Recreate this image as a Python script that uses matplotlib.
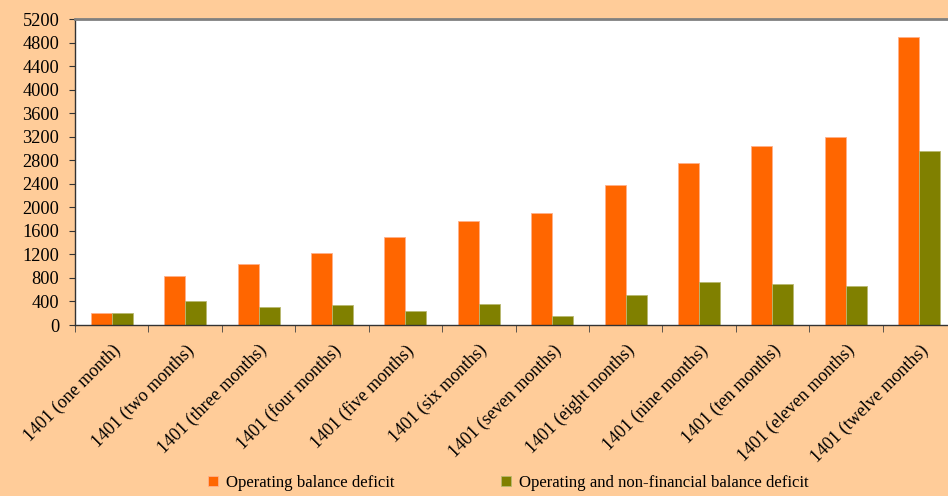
import matplotlib.pyplot as plt
import numpy as np

# Data
periods = ["1401 (one month)", "1401 (two months)", "1401 (three months)",
           "1401 (four months)", "1401 (five months)", "1401 (six months)",
           "1401 (seven months)", "1401 (eight months)", "1401 (nine months)",
           "1401 (ten months)", "1401 (eleven months)", "1401 (twelve months)"]
operating_deficit = [210, 830, 1030, 1220, 1500, 1760, 1900, 2380, 2760, 3040, 3200, 4900]
nonfinancial_deficit = [200, 400, 300, 340, 240, 360, 160, 505, 725, 700, 665, 2950]

bg = "#FFCC99"
orange = "#FF6600"
olive = "#808000"

plt.rcParams['font.family'] = ['Liberation Serif', 'DejaVu Serif']

fig = plt.figure(figsize=(9.48, 4.96), dpi=100, facecolor=bg)
ax = fig.add_axes([75 / 948, 1 - 325 / 496, 881 / 948, 306 / 496])
ax.set_facecolor("white")

x = np.arange(len(periods))
w = 0.286
ax.bar(x - w / 2, operating_deficit, w, color=orange, edgecolor="#FFB08A",
       linewidth=0.6, label="Operating balance deficit")
ax.bar(x + w / 2, nonfinancial_deficit, w, color=olive, edgecolor="#B8B870",
       linewidth=0.6, label="Operating and non-financial balance deficit")

ax.set_xlim(-0.5, len(periods) - 0.5)
ax.set_ylim(0, 5200)
ax.set_yticks(np.arange(0, 5201, 400))
ax.tick_params(axis="y", labelsize=13.2, length=4.3, direction="out", pad=7,
               color="#333333")

# category labels at centers, tick marks at category boundaries
ax.set_xticks(x)
ax.set_xticklabels(periods, rotation=45, ha="right", va="top",
                   rotation_mode="anchor", fontsize=13)
ax.tick_params(axis="x", which="major", length=0, pad=12)
ax.set_xticks(np.arange(-0.5, len(periods), 1), minor=True)
ax.tick_params(axis="x", which="minor", length=5, color="#404040")

for side in ["left", "bottom"]:
    ax.spines[side].set_color("#333333")
    ax.spines[side].set_linewidth(1.0)
ax.spines["top"].set_color("#808080")
ax.spines["top"].set_linewidth(2.0)
ax.spines["right"].set_visible(False)

fig.legend(loc="lower center", bbox_to_anchor=(0.536, -0.02), ncol=2,
           frameon=False, fontsize=12.1, handlelength=0.6, handleheight=0.6,
           columnspacing=6.3, handletextpad=0.5)

fig.savefig("out.png", dpi=100, facecolor=bg)
